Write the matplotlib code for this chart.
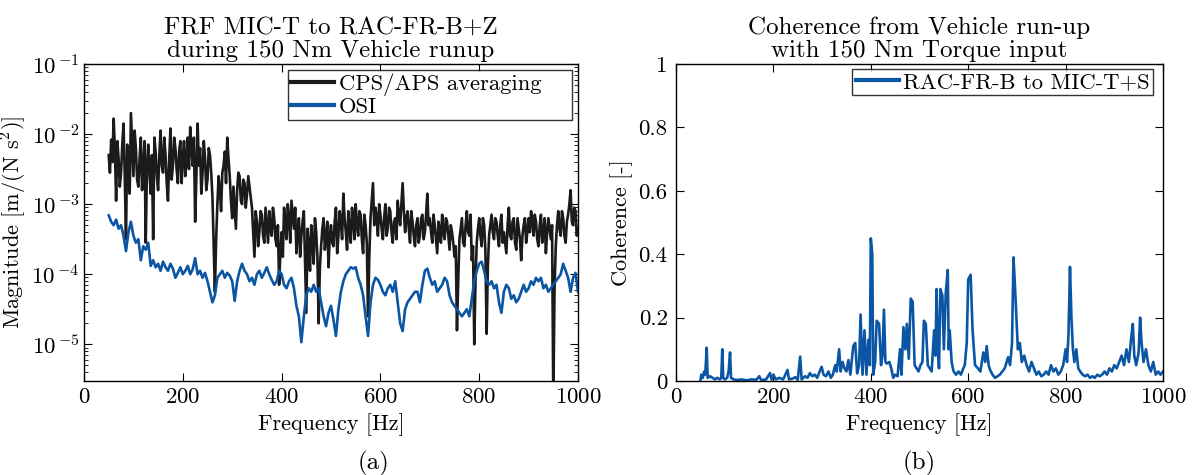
import numpy as np
import matplotlib
matplotlib.use("Agg")
import matplotlib.pyplot as plt
from matplotlib.ticker import LogLocator, FixedLocator, NullFormatter

plt.rcParams['font.family'] = 'serif'
plt.rcParams['font.serif'] = ['cmr10', 'DejaVu Serif']
plt.rcParams['mathtext.fontset'] = 'cm'
plt.rcParams['axes.unicode_minus'] = False
plt.rcParams['axes.formatter.use_mathtext'] = True

# ---- data (left panel, log10 of magnitude) ----
# CPS/APS: values on 5 Hz bins from 50 Hz, plus the in-between 2.5 Hz bins
frf_freq_start = 50
frf_freq_step = 5
cps_log10 = [
 -2.30,-2.08,-1.78,-2.95,-2.35,-2.55,-1.85,-3.50,-2.40,-1.70,
 -2.60,-2.20,-2.75,-2.05,-2.50,-3.55,-2.15,-2.85,-3.50,-2.25,
 -2.80,-1.95,-2.55,-2.30,-2.95,-1.92,-2.45,-2.20,-2.70,-2.10,
 -2.35,-2.60,-2.05,-1.90,-2.45,-3.25,-1.85,-2.20,-2.55,-2.35,
 -2.65,-2.30,-2.90,-4.25,-3.00,-2.80,-2.55,-2.25,-2.05,-2.60,
 -3.20,-3.05,-2.80,-2.60,-3.00,-2.70,-2.85,-2.75,-3.05,-3.75,
 -3.25,-3.40,-3.15,-3.55,-3.30,-3.10,-3.45,-3.20,-3.60,-4.15,
 -3.40,-3.05,-3.50,-3.20,-2.95,-3.35,-3.70,-3.20,-3.45,-3.10,
 -4.55,-3.60,-3.30,-3.85,-3.40,-4.70,-3.60,-3.20,-3.50,-3.90,
 -3.30,-3.60,-3.05,-3.45,-3.25,-2.85,-3.40,-3.10,-3.55,-3.20,
 -3.00,-3.45,-3.15,-3.70,-3.30,-4.60,-3.20,-2.70,-3.05,-3.45,
 -3.15,-3.50,-3.00,-3.35,-3.10,-3.55,-3.20,-2.95,-3.30,-2.70,
 -3.40,-3.10,-3.55,-3.25,-3.60,-3.20,-3.45,-3.15,-3.40,-2.85,
 -3.20,-3.55,-3.30,-3.70,-3.35,-3.15,-3.50,-3.25,-3.65,-3.40,
 -3.75,-4.80,-3.50,-3.20,-3.60,-3.10,-3.45,-3.80,-5.00,-3.55,
 -3.20,-3.60,-3.30,-4.85,-3.45,-3.15,-3.50,-3.25,-3.60,-3.15,
 -3.40,-3.70,-3.05,-3.50,-3.20,-3.65,-3.35,-3.80,-3.30,-3.55,
 -3.20,-3.10,-3.45,-3.25,-3.60,-3.15,-3.40,-3.70,-3.20,-3.50,
 -5.80,-3.60,-3.10,-3.45,-3.20,-3.55,-3.15,-2.80,-3.30,-3.10,
 -3.35]
cps_log10_mid = [
 -2.55,-2.40,-2.20,-2.10,-2.75,-2.15,-2.60,-2.15,-2.85,-2.15,
 -1.95,-2.65,-2.35,-2.80,-2.10,-2.45,-2.55,-2.30,-2.05,-2.60,
 -2.30,-2.45,-2.05,-2.70,-2.35,-2.65,-2.05,-2.50,-2.25,-2.70,
 -2.10,-2.35,-2.50,-2.20,-2.05,-2.60,-2.45,-2.85,-2.10,-2.80,
 -2.20,-2.55,-3.60,-3.50,-2.60,-3.10,-2.45,-2.70,-2.35,-2.95,
 -2.75,-3.35,-2.55,-2.95,-2.65,-3.05,-2.60,-2.90,-3.40,-3.10,
 -3.60,-3.10,-3.45,-3.05,-3.55,-3.35,-3.05,-3.50,-3.30,-3.70,
 -3.75,-3.30,-3.00,-3.55,-3.15,-3.05,-3.40,-3.75,-3.25,-3.80,
 -3.35,-3.95,-3.55,-3.20,-3.75,-3.90,-3.35,-3.65,-3.25,-3.45,
 -3.55,-3.25,-3.70,-3.10,-3.50,-3.20,-3.65,-3.35,-3.05,-3.50,
 -3.30,-3.10,-3.50,-3.15,-3.55,-3.75,-2.95,-3.30,-3.20,-3.00,
 -3.35,-3.20,-3.45,-3.05,-3.40,-3.25,-3.50,-3.15,-3.00,-3.10,
 -3.20,-3.35,-3.10,-3.45,-3.30,-3.55,-3.20,-3.50,-3.15,-3.30,
 -3.40,-3.15,-3.50,-3.25,-3.55,-3.40,-3.20,-3.45,-3.30,-3.55,
 -3.60,-4.10,-3.35,-3.55,-3.30,-3.40,-3.15,-3.60,-4.10,-3.35,
 -3.45,-3.20,-3.65,-3.90,-3.30,-3.40,-3.20,-3.45,-3.30,-3.55,
 -3.55,-3.30,-3.45,-3.25,-3.55,-3.20,-3.50,-3.45,-3.20,-3.40,
 -3.40,-3.25,-3.15,-3.50,-3.30,-3.55,-3.20,-3.40,-3.35,-3.30,
 -4.20,-3.30,-3.35,-3.10,-3.45,-3.25,-3.00,-3.25,-3.05,-3.45]
# OSI: 5 Hz bins from 50 Hz
osi_log10 = [
 -3.16,-3.25,-3.30,-3.22,-3.35,-3.30,-3.45,-3.67,-3.40,-3.25,
 -3.45,-3.55,-3.50,-3.80,-3.60,-3.65,-3.55,-3.88,-3.80,-3.90,
 -3.85,-3.95,-3.82,-3.90,-3.95,-3.85,-3.92,-4.05,-3.98,-3.90,
 -4.00,-3.95,-3.88,-4.00,-3.93,-3.77,-4.00,-3.95,-4.05,-3.98,
 -4.10,-4.25,-4.40,-4.30,-4.05,-4.00,-3.95,-4.05,-3.98,-4.02,
 -4.10,-4.38,-4.10,-3.95,-3.85,-3.95,-4.00,-4.10,-4.05,-4.15,
 -4.00,-3.95,-4.05,-3.98,-3.90,-4.00,-4.08,-4.15,-4.10,-3.95,
 -4.00,-4.15,-4.20,-4.10,-4.05,-4.20,-4.45,-4.60,-4.97,-4.60,
 -4.30,-4.20,-4.25,-4.15,-4.25,-4.20,-4.40,-4.60,-4.74,-4.55,
 -4.45,-4.65,-4.88,-4.50,-4.25,-4.10,-4.00,-3.95,-3.90,-3.92,
 -3.90,-4.05,-4.15,-4.30,-4.60,-4.88,-4.40,-4.15,-4.05,-4.08,
 -4.15,-4.25,-4.30,-4.20,-4.15,-4.25,-4.10,-4.40,-4.70,-4.81,
 -4.50,-4.40,-4.35,-4.30,-4.25,-4.25,-4.40,-4.15,-3.95,-3.92,
 -4.05,-4.15,-4.10,-4.25,-4.20,-4.15,-4.05,-4.10,-4.30,-4.40,
 -4.45,-4.50,-4.55,-4.60,-4.55,-4.50,-4.60,-4.35,-4.10,-3.95,
 -3.85,-3.82,-3.95,-4.10,-4.15,-4.10,-4.20,-4.15,-4.40,-4.55,
 -4.25,-4.15,-4.20,-4.35,-4.30,-4.40,-4.35,-4.25,-4.15,-4.25,
 -4.20,-4.10,-4.15,-4.05,-4.10,-4.05,-4.20,-4.15,-4.25,-4.20,
 -4.15,-4.10,-4.05,-4.00,-3.85,-3.95,-4.05,-4.25,-4.05,-3.98,
 -4.25]

# ---- data (right panel, coherence) ----
coh_freq = [50,52,55,58,60,63,65,70,75,80,85,90,93,95,97,100,105,108,111,113,
 118,125,135,145,155,165,171,175,185,193,196,200,205,212,220,229,232,240,245,250,
 255,258,265,270,275,280,285,290,295,299,303,308,313,318,322,327,330,335,338,342,
 346,350,354,358,364,368,372,376,379,383,387,391,395,398,400,403,405,409,412,417,
 421,424,427,430,433,438,442,446,450,455,460,463,467,471,474,478,482,486,490,494,
 498,502,506,509,513,517,521,525,530,533,535,538,540,543,547,550,554,558,560,562,
 566,570,575,580,585,590,593,597,600,605,609,614,620,625,631,635,638,642,645,650,
 655,660,665,670,675,679,682,686,690,693,696,699,702,706,710,715,720,725,730,735,
 740,745,750,755,760,765,770,775,780,785,790,795,800,803,806,809,812,815,818,822,
 826,830,835,840,845,850,855,860,865,870,875,880,885,890,895,900,905,910,915,920,
 925,930,935,938,941,945,950,953,956,960,965,970,975,980,985,990,995,1000]
coh_val = [0.0,0.02,0.01,0.03,0.02,0.105,0.01,0.015,0.01,0.005,0.01,0.005,0.01,0.10,0.01,0.005,0.01,0.03,0.09,0.01,
 0.005,0.003,0.005,0.002,0.005,0.004,0.015,0.003,0.005,0.025,0.005,0.02,0.005,0.01,0.005,0.035,0.005,0.008,0.012,0.004,
 0.077,0.005,0.015,0.01,0.025,0.015,0.02,0.01,0.03,0.045,0.02,0.015,0.03,0.01,0.02,0.05,0.03,0.10,0.03,0.06,
 0.04,0.03,0.066,0.02,0.11,0.12,0.024,0.05,0.21,0.02,0.16,0.02,0.13,0.05,0.45,0.40,0.02,0.06,0.19,0.18,
 0.05,0.08,0.225,0.06,0.055,0.06,0.04,0.01,0.02,0.015,0.10,0.02,0.17,0.10,0.18,0.07,0.26,0.25,0.05,0.04,
 0.03,0.05,0.06,0.19,0.18,0.05,0.04,0.03,0.16,0.08,0.29,0.10,0.04,0.29,0.27,0.10,0.28,0.35,0.10,0.16,
 0.06,0.03,0.02,0.03,0.02,0.04,0.05,0.12,0.32,0.335,0.16,0.05,0.04,0.03,0.09,0.06,0.11,0.05,0.035,0.02,
 0.01,0.015,0.02,0.03,0.04,0.06,0.075,0.05,0.12,0.39,0.30,0.20,0.10,0.12,0.06,0.08,0.05,0.03,0.06,0.04,
 0.02,0.03,0.015,0.02,0.03,0.02,0.05,0.03,0.04,0.02,0.03,0.05,0.10,0.06,0.15,0.36,0.20,0.10,0.06,0.10,
 0.04,0.03,0.02,0.015,0.02,0.01,0.015,0.01,0.02,0.015,0.02,0.03,0.02,0.04,0.03,0.05,0.04,0.06,0.08,0.05,
 0.10,0.06,0.14,0.18,0.08,0.05,0.09,0.20,0.12,0.06,0.10,0.05,0.03,0.06,0.02,0.03,0.02,0.03]

BLACK = '#1b1b1b'
BLUE = '#0b56a4'

fig = plt.figure(figsize=(11.95, 4.75), dpi=100)
ax1 = fig.add_axes([84/1195, 94/475, 494/1195, 317/475])
ax2 = fig.add_axes([676/1195, 94/475, 487/1195, 317/475])

# interleave the 5 Hz bins and the in-between bins of the CPS/APS curve
n_main = len(cps_log10)
cps_all = np.empty(2*n_main - 1)
cps_all[0::2] = cps_log10
cps_all[1::2] = cps_log10_mid
cps_freq = frf_freq_start + (frf_freq_step/2)*np.arange(len(cps_all))
osi_freq = frf_freq_start + frf_freq_step*np.arange(len(osi_log10))

ax1.semilogy(cps_freq, 10**cps_all, color=BLACK, lw=1.9, label='CPS/APS averaging')
ax1.semilogy(osi_freq, 10**np.array(osi_log10), color=BLUE, lw=1.9, label='OSI')
ax1.set_xlim(0, 1000)
ax1.set_ylim(3e-6, 1e-1)
ax1.set_xticks([0, 200, 400, 600, 800, 1000])
ax1.yaxis.set_major_locator(FixedLocator([1e-5, 1e-4, 1e-3, 1e-2, 1e-1]))
ax1.set_yticklabels([r'$10^{\,\mathrm{-}5}$', r'$10^{\,\mathrm{-}4}$', r'$10^{\,\mathrm{-}3}$',
                     r'$10^{\,\mathrm{-}2}$', r'$10^{\,\mathrm{-}1}$'])
ax1.yaxis.set_minor_locator(LogLocator(base=10, subs=np.arange(2, 10), numticks=20))
ax1.yaxis.set_minor_formatter(NullFormatter())
ax1.set_xlabel('Frequency [Hz]', fontsize=16)
ax1.set_ylabel('Magnitude [m/(N s$^2$)]', fontsize=16, labelpad=2)
ax1.set_title('FRF MIC-T to RAC-FR-B+Z\nduring 150 Nm Vehicle runup', fontsize=18, linespacing=1.05, pad=5)
leg1 = ax1.legend(loc='upper left', bbox_to_anchor=(0.413, 0.981, 0.575, 0.0), mode='expand',
                  fontsize=16.3, frameon=True, fancybox=False, edgecolor='black',
                  handlelength=1.9, handletextpad=0.2, borderpad=0.15, labelspacing=0.05,
                  borderaxespad=0.0)
leg1.get_frame().set_linewidth(1.0)
for l in leg1.get_lines():
    l.set_linewidth(3)

ax2.plot(coh_freq, coh_val, color=BLUE, lw=1.9, label='RAC-FR-B to MIC-T+S')
ax2.set_xlim(0, 1000)
ax2.set_ylim(0, 1)
ax2.set_xticks([0, 200, 400, 600, 800, 1000])
ax2.set_yticks([0, 0.2, 0.4, 0.6, 0.8, 1])
ax2.set_yticklabels(['0', '0.2', '0.4', '0.6', '0.8', '1'])
ax2.set_xlabel('Frequency [Hz]', fontsize=16)
ax2.set_ylabel('Coherence [-]', fontsize=16)
ax2.set_title('Coherence from Vehicle run-up\nwith 150 Nm Torque input', fontsize=18, linespacing=1.05, pad=5)
leg2 = ax2.legend(loc='upper left', bbox_to_anchor=(0.362, 0.985), fontsize=16.3, frameon=True, fancybox=False,
                  edgecolor='black', handlelength=1.9, handletextpad=0.2, borderpad=0.15, borderaxespad=0.0)
leg2.get_frame().set_linewidth(1.0)
for l in leg2.get_lines():
    l.set_linewidth(3)

for ax in (ax1, ax2):
    ax.tick_params(which='both', direction='in', top=True, right=True, labelsize=16.5)
    ax.tick_params(axis='x', pad=5)
    ax.tick_params(which='major', length=6, width=0.8)
    ax.tick_params(which='minor', length=3, width=0.6)
    for s in ax.spines.values():
        s.set_linewidth(1.0)
ax1.tick_params(axis='y', pad=3)
ax2.tick_params(axis='y', pad=6)

fig.text((84+289)/1195, 12/475, '(a)', ha='center', va='center', fontsize=18)
fig.text((676+243)/1195, 12/475, '(b)', ha='center', va='center', fontsize=18)

fig.savefig('out.png', dpi=100)
